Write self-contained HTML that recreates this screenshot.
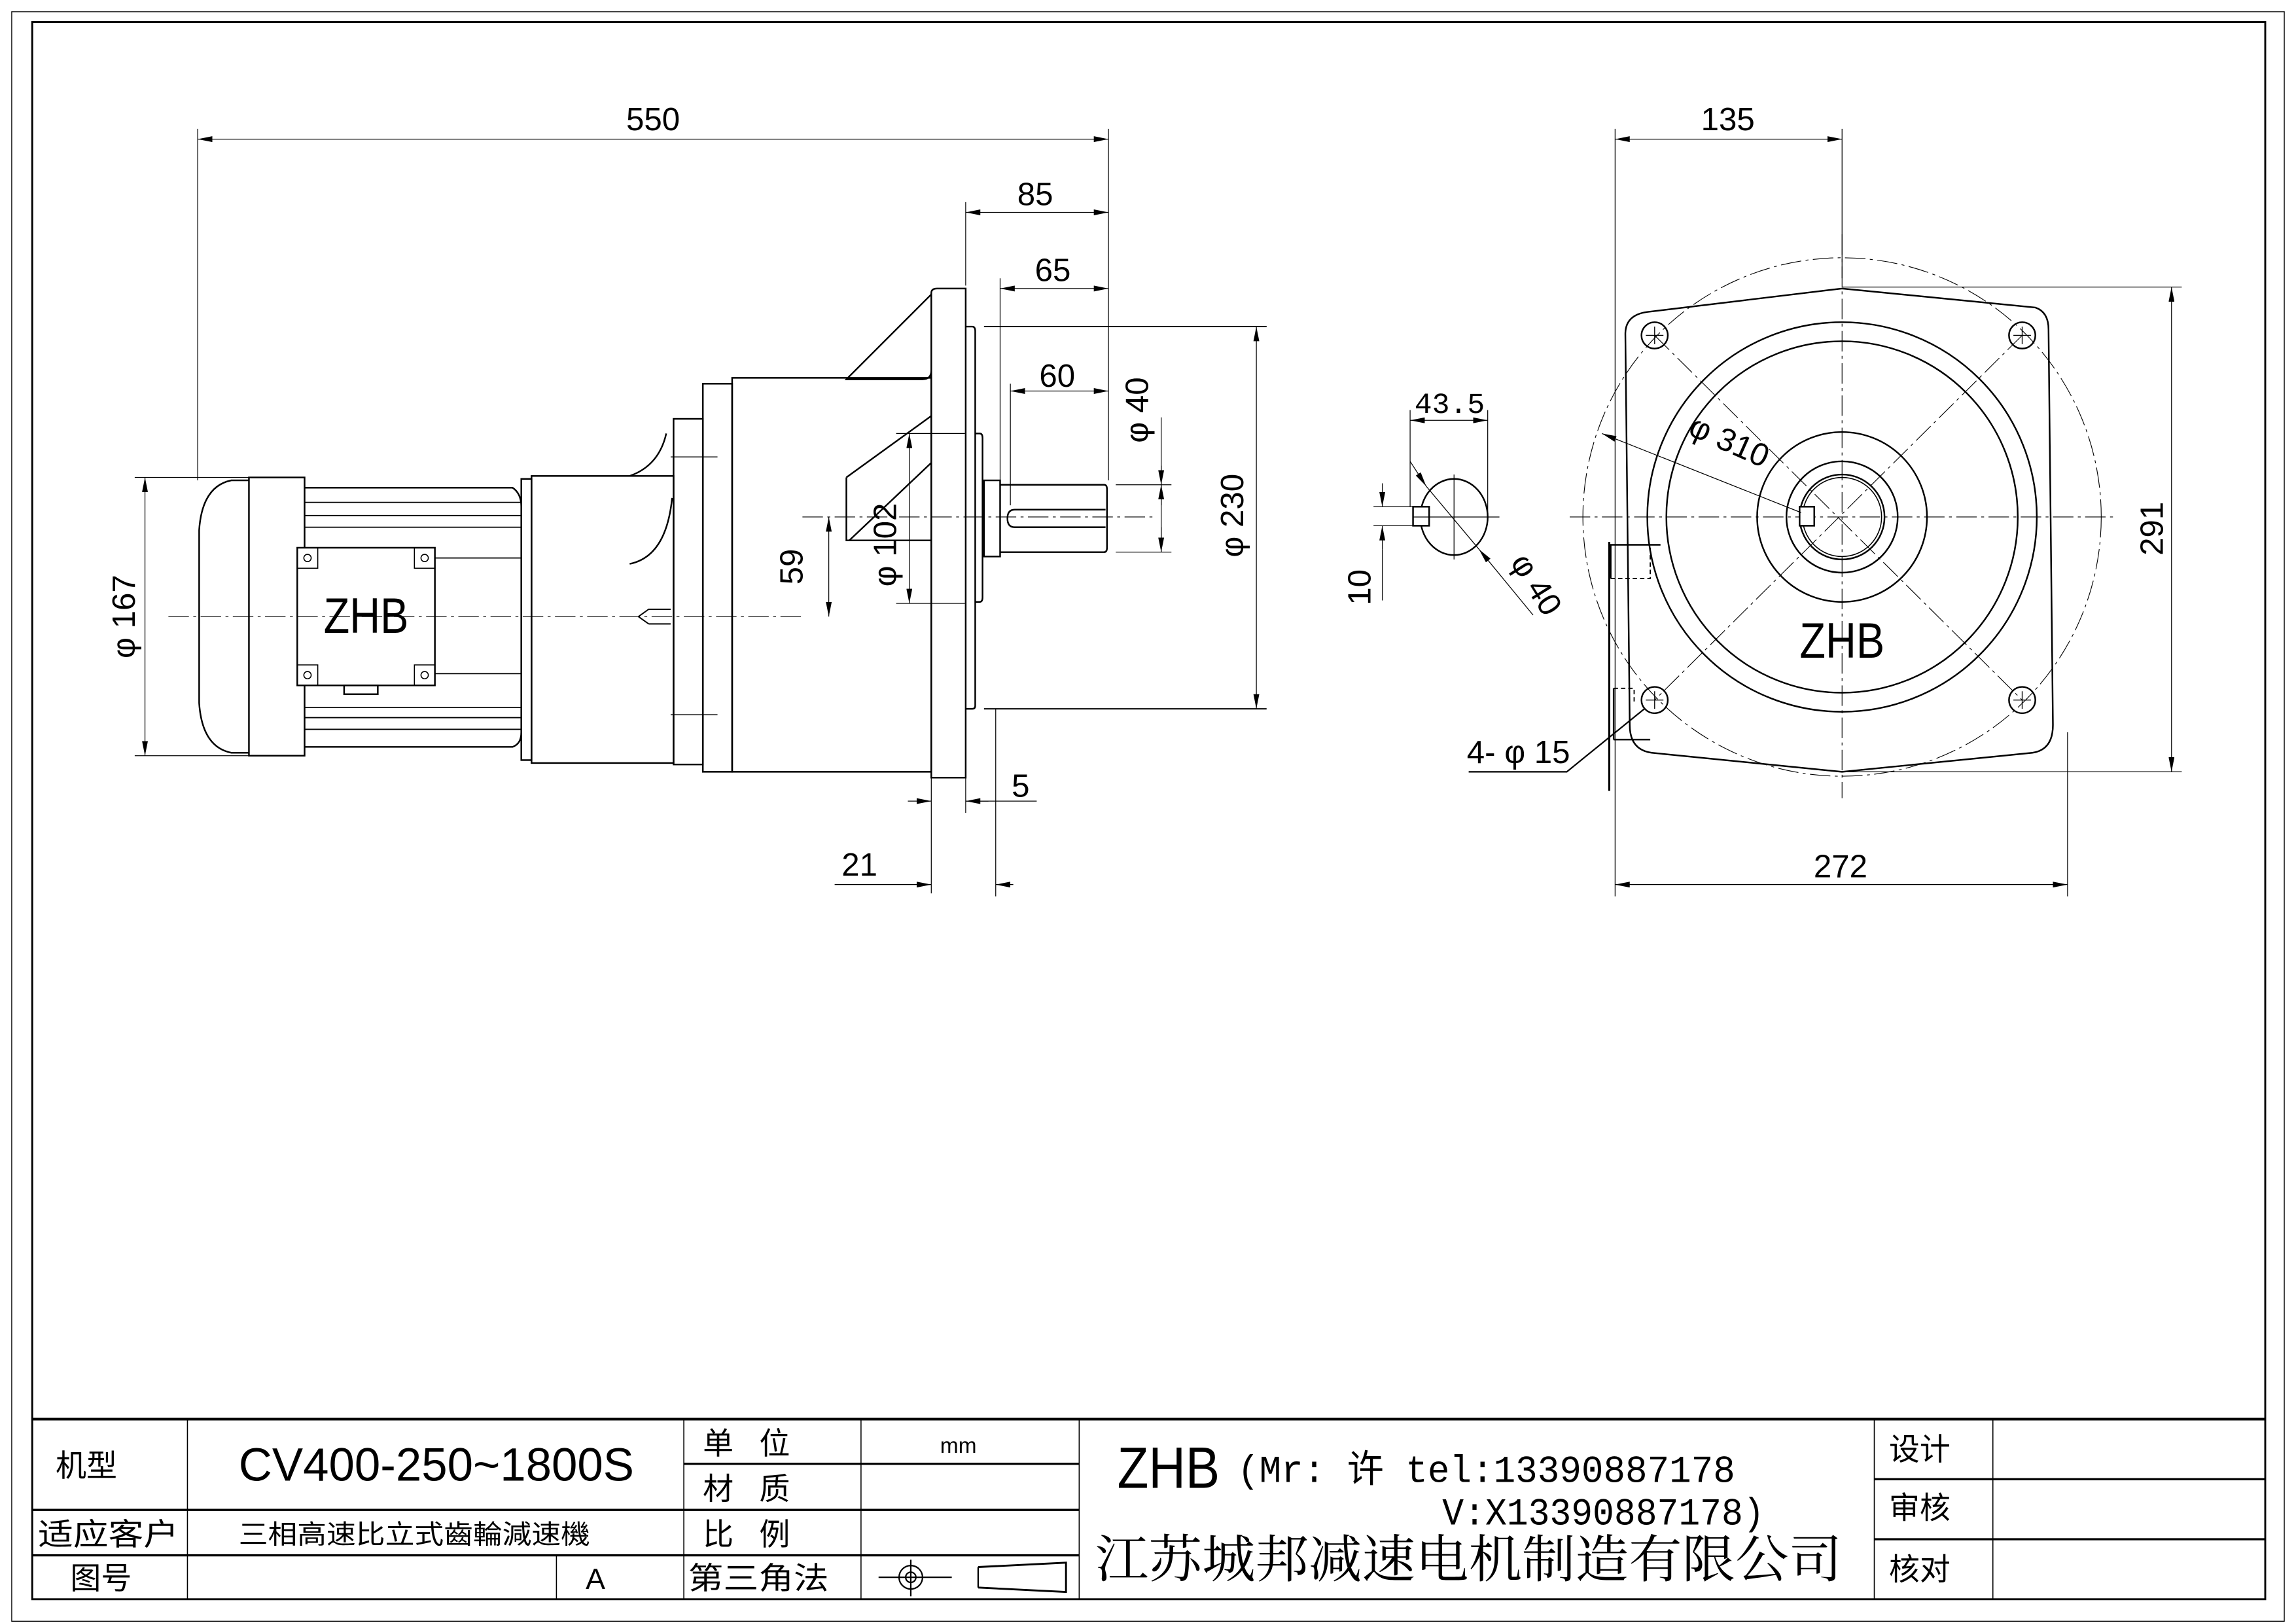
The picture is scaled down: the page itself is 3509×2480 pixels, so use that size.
<!DOCTYPE html>
<html><head><meta charset="utf-8"><style>
html,body{margin:0;padding:0;background:#fff}
svg{display:block}
text{font-family:"Liberation Sans Narrow","Liberation Sans",sans-serif;fill:#000}
.c{font-family:"Liberation Sans","Noto Sans CJK SC",sans-serif}
.m{font-family:"Liberation Mono","Noto Sans CJK SC",monospace}
</style></head><body>
<svg width="3509" height="2480" viewBox="0 0 1568 1108.2" xmlns="http://www.w3.org/2000/svg">
<defs>
<marker id="a" viewBox="0 0 10 4" refX="10" refY="2" markerWidth="10" markerHeight="4" markerUnits="userSpaceOnUse" orient="auto-start-reverse"><path d="M0,0 L10,2 L0,4z" fill="#000"/></marker>
</defs>
<rect width="1568" height="1108.2" fill="#fff"/>
<rect x="8" y="8" width="1552" height="1099" fill="none" stroke="#000" stroke-width="0.6"/>
<rect x="22" y="15" width="1525" height="1077" fill="none" stroke="#000" stroke-width="1.3"/>

<g stroke="#000" fill="none">
<line x1="22" y1="969" x2="1547" y2="969" stroke-width="1.8"/>
<line x1="22" y1="1031" x2="737" y2="1031" stroke-width="1.5"/>
<line x1="22" y1="1062" x2="737" y2="1062" stroke-width="1.5"/>
<line x1="467" y1="999.5" x2="737" y2="999.5" stroke-width="1.5"/>
<line x1="1280" y1="1010" x2="1547" y2="1010" stroke-width="1.5"/>
<line x1="1280" y1="1051" x2="1547" y2="1051" stroke-width="1.5"/>
<g stroke-width="0.7">
<line x1="128" y1="969" x2="128" y2="1092"/>
<line x1="380" y1="1062" x2="380" y2="1092"/>
<line x1="467" y1="969" x2="467" y2="1092"/>
<line x1="588" y1="969" x2="588" y2="1092"/>
<line x1="737" y1="969" x2="737" y2="1092"/>
<line x1="1280" y1="969" x2="1280" y2="1092"/>
<line x1="1361" y1="969" x2="1361" y2="1092"/>
</g>
</g>
<g font-size="21">
<text x="38" y="1008" class="c">机型</text>
<text x="26" y="1055" class="c" textLength="96" lengthAdjust="spacingAndGlyphs">适应客户</text>
<text x="48" y="1085" class="c">图号</text>
<text x="480" y="993" class="c">单&#160;&#160;&#160;位</text>
<text x="480" y="1024" class="c">材&#160;&#160;&#160;质</text>
<text x="480" y="1055" class="c">比&#160;&#160;&#160;例</text>
<text x="470" y="1085" class="c" textLength="96" lengthAdjust="spacingAndGlyphs">第三角法</text>
<text x="1290" y="997" class="c">设计</text>
<text x="1290" y="1037" class="c">审核</text>
<text x="1290" y="1079" class="c">核对</text>
</g>
<text x="163" y="1011" font-size="32" textLength="270" lengthAdjust="spacingAndGlyphs">CV400-250~1800S</text>
<text x="163" y="1054" font-size="18" class="c" textLength="240" lengthAdjust="spacingAndGlyphs">三相高速比立式齒輪減速機</text>
<text x="400" y="1085" font-size="20">A</text>
<text x="642" y="992" font-size="15">mm</text>
<text x="763" y="1016" font-size="40" textLength="70" lengthAdjust="spacingAndGlyphs">ZHB</text>
<text x="845" y="1012" font-size="26" class="m" textLength="340" lengthAdjust="spacingAndGlyphs">(Mr: 许 tel:13390887178</text>
<text x="985" y="1041" font-size="26" class="m" textLength="220" lengthAdjust="spacingAndGlyphs">V:X13390887178)</text>
<text x="748" y="1077" font-size="35" class="c" style="font-family:'Noto Serif CJK SC',serif" textLength="510" lengthAdjust="spacingAndGlyphs">江苏城邦减速电机制造有限公司</text>
<g stroke="#000" fill="none" stroke-width="1">
<circle cx="622" cy="1077" r="8"/><circle cx="622" cy="1077" r="3.5"/>
<line x1="600" y1="1077" x2="650" y2="1077"/><line x1="622" y1="1065" x2="622" y2="1090"/>
<path d="M668,1070 L728,1067 L728,1087 L668,1084" stroke-width="1.3"/>
<line x1="668" y1="1070" x2="668" y2="1084"/>
</g>

<!-- SIDE VIEW -->
<g stroke="#000" fill="none" stroke-width="1.1">
<path d="M170,328 L158,328 Q138,332 136,362 L136,480 Q138,510 158,514 L170,514"/>
<rect x="170" y="326" width="38" height="190"/>
<path d="M208,333 L350,333 Q356,337 356,346 L356,500 Q356,508 350,510 L208,510"/>
<g stroke-width="0.8">
<line x1="208" y1="343" x2="356" y2="343"/><line x1="208" y1="352" x2="356" y2="352"/>
<line x1="208" y1="360" x2="356" y2="360"/><line x1="297" y1="381" x2="356" y2="381"/>
<line x1="297" y1="460" x2="356" y2="460"/><line x1="208" y1="483" x2="356" y2="483"/>
<line x1="208" y1="490" x2="356" y2="490"/><line x1="208" y1="498" x2="356" y2="498"/>
<line x1="208" y1="366" x2="208" y2="477"/>
</g>
<rect x="203" y="374" width="94" height="94" fill="#fff"/>
<rect x="235" y="468" width="23" height="6"/>
<g stroke-width="0.7">
<circle cx="210" cy="381" r="2.5"/><circle cx="290" cy="381" r="2.5"/>
<circle cx="210" cy="461" r="2.5"/><circle cx="290" cy="461" r="2.5"/>
<path d="M203,388 L217,388 L217,374"/><path d="M297,388 L283,388 L283,374"/>
<path d="M203,454 L217,454 L217,468"/><path d="M297,454 L283,454 L283,468"/>
</g>
<rect x="356" y="327" width="7" height="192"/>
<rect x="363" y="325" width="97" height="196"/>
<path d="M430,325 Q450,318 455,296" />
<path d="M430,385 Q455,380 459,340" />
<rect x="460" y="286" width="20" height="236"/>
<line x1="458" y1="312" x2="490" y2="312" stroke-width="0.6"/>
<line x1="458" y1="488" x2="490" y2="488" stroke-width="0.6"/>
<rect x="480" y="262" width="20" height="265"/>
<rect x="500" y="258" width="136" height="269"/>
<path d="M636,200 Q636,197 640,197 L659.5,197 L659.5,531 L636,531 Z"/>
<path d="M636,201 L578,259 L630,259 Q636,259 636,253"/>
<path d="M578,326 L578,369 L636,369"/>
<line x1="578" y1="326" x2="636" y2="284"/>
<line x1="580" y1="369" x2="636" y2="316"/>
<path d="M659.5,223 L664,223 Q666,223 666,226 L666,482 Q666,484 664,484 L659.5,484"/>
<path d="M666,296 L669,296 Q671,296 671,299 L671,408 Q671,411 669,411 L666,411"/>
<rect x="672" y="328" width="11" height="52"/>
<path d="M683,331 L754,331 Q756,331 756,334 L756,374 Q756,377 754,377 L683,377"/>
<path d="M755,348 L693,348 Q688,348 688,354 Q688,360 693,360 L755,360"/>
</g>
<text x="250" y="432" font-size="34" text-anchor="middle" textLength="58" lengthAdjust="spacingAndGlyphs">ZHB</text>
<path d="M436,421 L443,416 L458,416 M443,426 L458,426 M436,421 L443,426" stroke="#000" fill="none" stroke-width="0.9"/>
<g stroke="#000" stroke-width="0.5" stroke-dasharray="14,3,2,3" fill="none">
<line x1="115" y1="421" x2="550" y2="421"/>
<line x1="548" y1="353" x2="790" y2="353"/>
</g>

<g stroke="#000" stroke-width="0.55" fill="none">
<line x1="135" y1="88" x2="135" y2="328"/><line x1="757" y1="88" x2="757" y2="328"/>
<line x1="135" y1="95" x2="757" y2="95" marker-start="url(#a)" marker-end="url(#a)"/>
<line x1="659.5" y1="138" x2="659.5" y2="195"/>
<line x1="659.5" y1="145" x2="757" y2="145" marker-start="url(#a)" marker-end="url(#a)"/>
<line x1="683" y1="190" x2="683" y2="328"/>
<line x1="683" y1="197" x2="757" y2="197" marker-start="url(#a)" marker-end="url(#a)"/>
<line x1="690" y1="262" x2="690" y2="345"/>
<line x1="690" y1="267" x2="757" y2="267" marker-start="url(#a)" marker-end="url(#a)"/>
<line x1="762" y1="331" x2="800" y2="331"/><line x1="762" y1="377" x2="800" y2="377"/>
<line x1="793" y1="285" x2="793" y2="377" />
<line x1="793" y1="318" x2="793" y2="331" marker-end="url(#a)"/>
<line x1="793" y1="360" x2="793" y2="377" marker-end="url(#a)"/>
<line x1="793" y1="345" x2="793" y2="331" marker-end="url(#a)"/>
<line x1="672" y1="223" x2="865" y2="223" stroke-width="0.9"/><line x1="672" y1="484" x2="865" y2="484" stroke-width="0.9"/>
<line x1="858" y1="223" x2="858" y2="484" marker-start="url(#a)" marker-end="url(#a)"/>
<line x1="612" y1="296" x2="659" y2="296"/><line x1="612" y1="412" x2="659" y2="412"/>
<line x1="621" y1="296" x2="621" y2="412" marker-start="url(#a)" marker-end="url(#a)"/>
<line x1="566" y1="353" x2="566" y2="421" marker-start="url(#a)" marker-end="url(#a)"/>
<line x1="92" y1="326" x2="170" y2="326"/><line x1="92" y1="516" x2="170" y2="516"/>
<line x1="99" y1="326" x2="99" y2="516" marker-start="url(#a)" marker-end="url(#a)"/>
<line x1="636" y1="531" x2="636" y2="610"/><line x1="659.5" y1="531" x2="659.5" y2="555"/>
<line x1="620" y1="547" x2="636" y2="547" marker-end="url(#a)"/>
<line x1="675" y1="547" x2="659.5" y2="547" marker-end="url(#a)"/>
<line x1="659.5" y1="547" x2="708" y2="547"/>
<line x1="680" y1="484" x2="680" y2="612"/>
<line x1="570" y1="604" x2="636" y2="604" marker-end="url(#a)"/>
<line x1="692" y1="604" x2="680" y2="604" marker-end="url(#a)"/>
</g>
<g font-size="22">
<text x="446" y="89" text-anchor="middle">550</text>
<text x="707" y="140" text-anchor="middle">85</text>
<text x="719" y="192" text-anchor="middle">65</text>
<text x="722" y="264" text-anchor="middle">60</text>
<text x="697" y="544" text-anchor="middle">5</text>
<text x="587" y="598" text-anchor="middle">21</text>
<text transform="translate(784,280) rotate(-90)" text-anchor="middle">φ 40</text>
<text transform="translate(849,352) rotate(-90)" text-anchor="middle">φ 230</text>
<text transform="translate(612,372) rotate(-90)" text-anchor="middle">φ 102</text>
<text transform="translate(548,387) rotate(-90)" text-anchor="middle">59</text>
<text transform="translate(92,421) rotate(-90)" text-anchor="middle">φ 167</text>
</g>

<!-- SHAFT SECTION -->
<g stroke="#000" fill="none" stroke-width="1.1">
<ellipse cx="993" cy="353" rx="23" ry="26"/>
<rect x="965" y="346" width="11" height="13" fill="#fff"/>
</g>
<g stroke="#000" fill="none" stroke-width="0.55">
<line x1="993" y1="324" x2="993" y2="382"/><line x1="965" y1="353" x2="1024" y2="353"/>
<line x1="963" y1="280" x2="963" y2="346"/><line x1="1016" y1="280" x2="1016" y2="353"/>
<line x1="963" y1="287" x2="1016" y2="287" marker-start="url(#a)" marker-end="url(#a)"/>
<line x1="938" y1="346" x2="965" y2="346"/><line x1="938" y1="359" x2="965" y2="359"/>
<line x1="944" y1="330" x2="944" y2="346" marker-end="url(#a)"/>
<line x1="944" y1="375" x2="944" y2="359" marker-end="url(#a)"/>
<line x1="944" y1="375" x2="944" y2="410"/>
<line x1="963" y1="315" x2="974" y2="332" marker-end="url(#a)"/>
<line x1="1047" y1="420" x2="1010" y2="375" marker-end="url(#a)"/>
<line x1="974" y1="332" x2="1010" y2="375"/>
</g>
<g font-size="22">
<text x="990" y="282" text-anchor="middle" class="m" style="font-size:20px">43.5</text>
<text transform="translate(936,401) rotate(-90)" text-anchor="middle">10</text>
<text transform="translate(1043,403) rotate(58)" text-anchor="middle">φ 40</text>
</g>

<!-- FRONT VIEW -->
<g stroke="#000" fill="none" stroke-width="0.5" stroke-dasharray="14,3,2,3">
<circle cx="1258" cy="353" r="177"/>
<line x1="1258" y1="160" x2="1258" y2="545"/>
<line x1="1072" y1="353" x2="1445" y2="353"/>
<line x1="1130" y1="229" x2="1381" y2="478"/>
<line x1="1381" y1="229" x2="1130" y2="478"/>
</g>
<g stroke="#000" fill="none" stroke-width="1.1">
<path d="M1125,213 L1258,197 L1390,210 Q1399,213 1399,225 L1402,495 Q1402,512 1388,514 L1258,527 L1128,514 Q1113,512 1113,495 L1110,228 Q1110,215 1125,213 Z"/>
<circle cx="1258" cy="353" r="133"/>
<circle cx="1258" cy="353" r="120"/>
<circle cx="1258" cy="353" r="58"/>
<circle cx="1258" cy="353" r="38"/>
<circle cx="1258" cy="353" r="29"/>
<circle cx="1258" cy="353" r="27" stroke-width="0.7"/>
<rect x="1229" y="346" width="10" height="13" fill="#fff"/>
<circle cx="1130" cy="229" r="9"/><circle cx="1381" cy="229" r="9"/>
<circle cx="1130" cy="478" r="9"/><circle cx="1381" cy="478" r="9"/>
<line x1="1099" y1="370" x2="1099" y2="540" stroke-width="1.4"/>
<path d="M1134,372 L1100,372 L1100,395 M1102,505 L1102,470 M1102,505 L1127,505"/>
<path d="M1100,395 L1127,395 L1127,372 M1102,470 L1116,470 L1116,480" stroke-dasharray="3,2" stroke-width="0.8"/>
</g>
<g stroke="#000" stroke-width="0.6">
<line x1="1124" y1="229" x2="1136" y2="229"/><line x1="1130" y1="223" x2="1130" y2="235"/>
<line x1="1375" y1="229" x2="1387" y2="229"/><line x1="1381" y1="223" x2="1381" y2="235"/>
<line x1="1124" y1="478" x2="1136" y2="478"/><line x1="1130" y1="472" x2="1130" y2="484"/>
<line x1="1375" y1="478" x2="1387" y2="478"/><line x1="1381" y1="472" x2="1381" y2="484"/>
</g>
<text x="1258" y="449" font-size="34" text-anchor="middle" textLength="58" lengthAdjust="spacingAndGlyphs">ZHB</text>
<g stroke="#000" fill="none" stroke-width="0.55">
<line x1="1103" y1="88" x2="1103" y2="612"/><line x1="1258" y1="88" x2="1258" y2="190"/>
<line x1="1103" y1="95" x2="1258" y2="95" marker-start="url(#a)" marker-end="url(#a)"/>
<line x1="1258" y1="196" x2="1490" y2="196"/><line x1="1258" y1="527" x2="1490" y2="527"/>
<line x1="1483" y1="196" x2="1483" y2="527" marker-start="url(#a)" marker-end="url(#a)"/>
<line x1="1412" y1="500" x2="1412" y2="612"/>
<line x1="1103" y1="604" x2="1412" y2="604" marker-start="url(#a)" marker-end="url(#a)"/>
<line x1="1230" y1="350" x2="1094" y2="296" marker-end="url(#a)"/>
<path d="M1003,527 L1070,527 L1123,484" stroke-width="1"/>
</g>
<g font-size="22">
<text x="1180" y="89" text-anchor="middle">135</text>
<text x="1257" y="599" text-anchor="middle">272</text>
<text transform="translate(1477,361) rotate(-90)" text-anchor="middle">291</text>
<text transform="translate(1178,308) rotate(24)" text-anchor="middle">φ 310</text>
<text x="1037" y="521" text-anchor="middle">4- φ 15</text>
</g>
</svg>
</body></html>
